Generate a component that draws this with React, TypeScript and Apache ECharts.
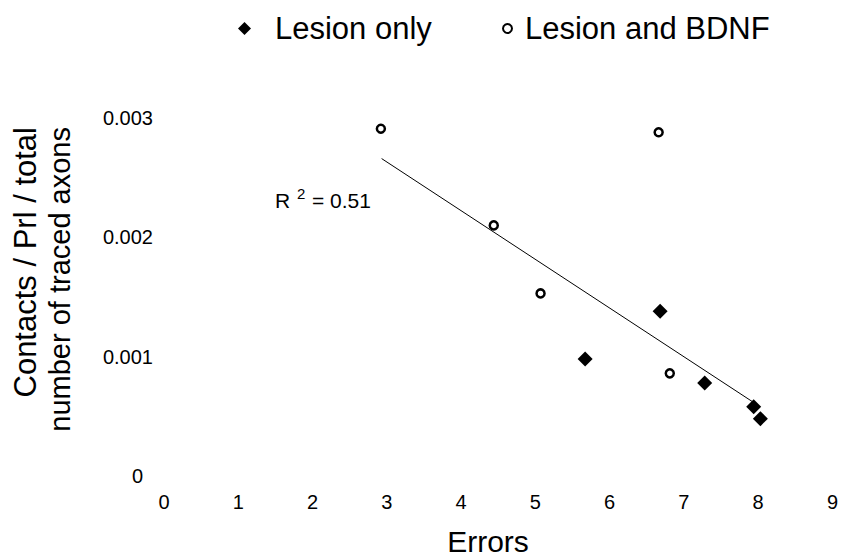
import React, { useEffect, useRef } from "react";
import * as echarts from "echarts";

const xTicks = [0, 1, 2, 3, 4, 5, 6, 7, 8, 9];
const yTicks = [0, 0.001, 0.002, 0.003];

const lesionOnly: [number, number][] = [
  [5.67, 0.00098],
  [6.68, 0.00138],
  [7.28, 0.00078],
  [7.94, 0.00058],
  [8.03, 0.00048],
];

const lesionBDNF: [number, number][] = [
  [2.92, 0.00291],
  [4.44, 0.0021],
  [5.07, 0.00153],
  [6.66, 0.00288],
  [6.81, 0.00086],
];

const trendLine: [number, number][] = [
  [2.93, 0.00266],
  [7.93, 0.00062],
];

const seriesNames = ["Lesion only", "Lesion and BDNF"];
const yTitle = ["Contacts / Prl / total", "number of traced axons"];
const xTitle = "Errors";
const rText = ["R", "2", "= 0.51"];

const FONT = "Liberation Sans, Arial, Helvetica, sans-serif";

export default function App() {
  const ref = useRef<HTMLDivElement>(null);
  useEffect(() => {
    document.body.style.margin = "0";
    const chart = echarts.init(ref.current!, null, { renderer: "svg" });
    chart.setOption({
      animation: false,
      backgroundColor: "#ffffff",
      textStyle: { fontFamily: FONT },
      grid: { left: 164, right: 8, top: 118, bottom: 84, containLabel: false },
      legend: [
        {
          data: [{ name: seriesNames[0], icon: "diamond", itemStyle: { color: "#000", opacity: 1 } }],
          left: 233,
          top: 8,
          itemWidth: 13,
          itemHeight: 13,
          itemGap: 0,
          selectedMode: false,
          textStyle: { fontSize: 31, color: "#000", fontFamily: FONT, padding: [0, 0, 0, 19] },
        },
        {
          data: [
            {
              name: seriesNames[1],
              icon: "circle",
              itemStyle: { color: "#fff", borderColor: "#000", borderWidth: 2, opacity: 1 },
            },
          ],
          left: 497,
          top: 8,
          itemWidth: 9,
          itemHeight: 9,
          itemGap: 0,
          selectedMode: false,
          textStyle: { fontSize: 31, color: "#000", fontFamily: FONT, padding: [0, 0, 0, 8] },
        },
      ],
      xAxis: {
        type: "value",
        min: xTicks[0],
        max: xTicks[xTicks.length - 1],
        interval: 1,
        axisLine: { show: false },
        axisTick: { show: false },
        splitLine: { show: false },
        axisLabel: {
          margin: 16,
          fontSize: 20,
          color: "#000",
          fontFamily: FONT,
          formatter: (v: number) => String(v),
        },
      },
      yAxis: {
        type: "value",
        min: yTicks[0],
        max: yTicks[yTicks.length - 1],
        interval: 0.001,
        axisLine: { show: false },
        axisTick: { show: false },
        splitLine: { show: false },
        axisLabel: {
          margin: 11,
          fontSize: 20,
          color: "#000",
          fontFamily: FONT,
          formatter: (v: number) => (Math.abs(v) < 1e-9 ? "{z|0}" : v.toFixed(3)),
          rich: { z: { fontSize: 20, color: "#000", padding: [0, 10, 0, 0], fontFamily: FONT } },
        },
      },
      series: [
        {
          name: "trend",
          type: "line",
          data: trendLine,
          showSymbol: false,
          symbol: "none",
          lineStyle: { color: "#000", width: 1 },
          silent: true,
          z: 1,
        },
        {
          name: seriesNames[0],
          type: "scatter",
          data: lesionOnly,
          symbol: "diamond",
          symbolSize: 15,
          itemStyle: { color: "#000", opacity: 1 },
          z: 3,
        },
        {
          name: seriesNames[1],
          type: "scatter",
          data: lesionBDNF,
          symbol: "circle",
          symbolSize: 8,
          itemStyle: { color: "#fff", borderColor: "#000", borderWidth: 2.5, opacity: 1 },
          z: 3,
        },
      ],
      graphic: [
        {
          type: "text",
          x: 25,
          y: 127,
          rotation: Math.PI / 2,
          style: {
            text: yTitle[0],
            font: `31px ${FONT}`,
            fill: "#000",
            textAlign: "right",
            textVerticalAlign: "middle",
          },
        },
        {
          type: "text",
          x: 60,
          y: 127,
          rotation: Math.PI / 2,
          style: {
            text: yTitle[1],
            font: `29px ${FONT}`,
            fill: "#000",
            textAlign: "right",
            textVerticalAlign: "middle",
          },
        },
        {
          type: "text",
          x: 488,
          y: 541,
          style: {
            text: xTitle,
            font: `30px ${FONT}`,
            fill: "#000",
            textAlign: "center",
            textVerticalAlign: "middle",
          },
        },
        {
          type: "text",
          x: 275,
          y: 200,
          style: { text: rText[0], font: `21px ${FONT}`, fill: "#000", textAlign: "left", textVerticalAlign: "middle" },
        },
        {
          type: "text",
          x: 297,
          y: 193,
          style: { text: rText[1], font: `15px ${FONT}`, fill: "#000", textAlign: "left", textVerticalAlign: "middle" },
        },
        {
          type: "text",
          x: 312,
          y: 200,
          style: { text: rText[2], font: `21px ${FONT}`, fill: "#000", textAlign: "left", textVerticalAlign: "middle" },
        },
      ],
    });
    return () => chart.dispose();
  }, []);
  return <div ref={ref} style={{ position: "fixed", left: 0, top: 0, width: 841, height: 560 }} />;
}
